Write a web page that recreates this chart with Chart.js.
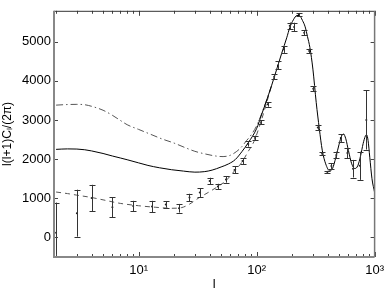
<!DOCTYPE html>
<html>
<head>
<meta charset="utf-8">
<script src="https://cdn.jsdelivr.net/npm/chart.js@4.4.1/dist/chart.umd.min.js"></script>
<style>
  body { margin: 0; background: #fff; }
</style>
</head>
<body>
<canvas id="cl-chart" width="390" height="292"></canvas>
<script>
// measured band powers with error bars
const dataL = [2, 3, 4, 6, 9, 13, 17, 22, 27, 33, 40, 47, 55, 65, 76, 85, 97, 109, 124, 141, 152, 171, 191, 208, 228, 253, 279, 302, 330, 359, 398, 430, 474, 517, 588, 656, 748, 851];
const dataV = [120, 620, 1010, 770, 805, 790, 840, 745, 1020, 1145, 1440, 1300, 1480, 1725, 1950, 2390, 2540, 2940, 3400, 4105, 4395, 4800, 5405, 5375, 5695, 5230, 4765, 3800, 2810, 2140, 1670, 1825, 2105, 2540, 2160, 1755, 1830, 3000];
const dataErr = [770, 600, 335, 260, 130, 145, 80, 110, 95, 110, 85, 70, 80, 90, 75, 70, 60, 50, 60, 60, 100, 85, 85, 110, 40, 70, 60, 60, 60, 30, 30, 75, 85, 100, 135, 225, 360, 755];

// model curves
const solidL = [2, 2.5, 3, 3.5, 4, 5, 6, 7, 8, 10, 12, 15, 19, 24, 30, 36, 42, 50, 58, 66, 75, 85, 100, 110, 120, 134, 150, 163, 180, 191, 205, 220, 230, 245, 258, 270, 283, 300, 320, 340, 360, 385, 417, 440, 470, 500, 525, 545, 570, 600, 640, 680, 720, 760, 800, 835, 855, 880, 910, 950, 1000];
const solidV = [2250, 2262, 2258, 2240, 2210, 2145, 2080, 2030, 1985, 1905, 1840, 1780, 1730, 1695, 1668, 1680, 1720, 1800, 1880, 1990, 2190, 2420, 2780, 3130, 3450, 3880, 4350, 4700, 5100, 5360, 5560, 5670, 5670, 5540, 5380, 5130, 4850, 4300, 3450, 2780, 2230, 1880, 1700, 1760, 2050, 2380, 2590, 2640, 2520, 2220, 1880, 1760, 1830, 2080, 2400, 2590, 2620, 2480, 2050, 1500, 1150];

const dashDotL = [2, 2.5, 3, 3.5, 4, 5, 6, 7, 8, 10, 13, 16, 20, 25, 30, 37, 45, 52, 60, 68, 75, 82, 90, 100, 110, 120, 134];
const dashDotV = [3380, 3395, 3400, 3390, 3350, 3250, 3120, 2990, 2880, 2760, 2620, 2510, 2410, 2290, 2200, 2130, 2080, 2065, 2100, 2200, 2320, 2470, 2620, 2850, 3150, 3460, 3880];

const dashedL = [2, 2.5, 3, 4, 5, 7, 10, 14, 19, 23, 27, 32, 40, 48, 55, 65, 75, 85, 95, 110, 120, 134];
const dashedV = [1160, 1120, 1080, 1020, 960, 870, 810, 770, 745, 760, 850, 1000, 1170, 1320, 1450, 1700, 1920, 2200, 2450, 3000, 3380, 3880];

// axes
const yTicks = [0, 1000, 2000, 3000, 4000, 5000];
const xMajor = [10, 100, 1000];
const xLabels = ['10¹', '10²', '10³'];

const FONT = "'Liberation Sans', Arial, Helvetica, sans-serif";

function toPoints(xs, ys) {
    return xs.map((x, i) => ({ x: x, y: ys[i] }));
}

function xTickList() {
    const list = [];
    for (let d = 1; d <= 100; d *= 10) {
        for (let k = 2; k <= 9; k++) list.push({ value: k * d });
    }
    xMajor.forEach(v => list.push({ value: v, major: true }));
    return list.sort((a, b) => a.value - b.value);
}

// error bars, drawn through the scales
const errorBars = {
    id: 'errorBars',
    afterDatasetsDraw(chart) {
        const { ctx, chartArea: a, scales: { x, y } } = chart;
        ctx.save();
        ctx.beginPath();
        ctx.rect(a.left, a.top, a.right - a.left, a.bottom - a.top);
        ctx.clip();
        ctx.strokeStyle = '#333';
        ctx.lineWidth = 1;
        dataL.forEach((l, i) => {
            const px = Math.round(x.getPixelForValue(l)) + 0.5;
            const top = y.getPixelForValue(dataV[i] + dataErr[i]);
            const bot = y.getPixelForValue(dataV[i] - dataErr[i]);
            ctx.beginPath();
            ctx.moveTo(px, top); ctx.lineTo(px, bot);
            ctx.moveTo(px - 3, Math.round(top) + 0.5); ctx.lineTo(px + 3, Math.round(top) + 0.5);
            ctx.moveTo(px - 3, Math.round(bot) + 0.5); ctx.lineTo(px + 3, Math.round(bot) + 0.5);
            ctx.stroke();
        });
        ctx.restore();
    }
};

// box and inward tick marks like the original plot
const frame = {
    id: 'frame',
    afterDraw(chart) {
        const { ctx, chartArea: a, scales: { x, y } } = chart;
        ctx.save();
        ctx.strokeStyle = '#444';
        ctx.lineWidth = 1;
        ctx.beginPath();
        x.ticks.forEach(t => {
            const px = Math.round(x.getPixelForValue(t.value)) + 0.5;
            const len = xMajor.includes(t.value) ? 5 : 3;
            ctx.moveTo(px, a.bottom); ctx.lineTo(px, a.bottom - len);
            ctx.moveTo(px, a.top); ctx.lineTo(px, a.top + len);
        });
        y.ticks.forEach(t => {
            const py = Math.round(y.getPixelForValue(t.value)) + 0.5;
            ctx.moveTo(a.left, py); ctx.lineTo(a.left + 4, py);
            ctx.moveTo(a.right, py); ctx.lineTo(a.right - 4, py);
        });
        ctx.stroke();

        ctx.strokeStyle = '#333';
        ctx.beginPath();
        ctx.moveTo(a.left, a.top + 0.5); ctx.lineTo(a.right, a.top + 0.5);
        ctx.stroke();
        ctx.strokeStyle = '#777';
        ctx.lineWidth = 1.5;
        ctx.beginPath();
        ctx.moveTo(a.right, a.top); ctx.lineTo(a.right, a.bottom);
        ctx.stroke();
        ctx.strokeStyle = '#888';
        ctx.lineWidth = 2;
        ctx.beginPath();
        ctx.moveTo(a.left, a.top); ctx.lineTo(a.left, a.bottom); ctx.lineTo(a.right, a.bottom);
        ctx.stroke();
        ctx.restore();
    }
};

const lineStyle = {
    showLine: true,
    pointRadius: 0,
    borderWidth: 1,
    fill: false,
    cubicInterpolationMode: 'monotone'
};

new Chart(document.getElementById('cl-chart').getContext('2d'), {
    type: 'scatter',
    data: {
        datasets: [
            Object.assign({ label: 'model', data: toPoints(solidL, solidV), borderColor: '#000' }, lineStyle),
            Object.assign({ label: 'model 2', data: toPoints(dashDotL, dashDotV), borderColor: '#555', borderDash: [7, 3, 1.5, 3] }, lineStyle),
            Object.assign({ label: 'model 3', data: toPoints(dashedL, dashedV), borderColor: '#555', borderDash: [5, 4] }, lineStyle),
            {
                label: 'data',
                data: toPoints(dataL, dataV),
                showLine: false,
                pointRadius: 1,
                pointBackgroundColor: '#222',
                pointBorderWidth: 0
            }
        ]
    },
    options: {
        responsive: false,
        animation: false,
        layout: { padding: { top: 3, right: 13, left: 0, bottom: 0 } },
        plugins: { legend: { display: false }, tooltip: { enabled: false } },
        scales: {
            x: {
                type: 'logarithmic',
                min: 1.92,
                max: 1000,
                afterBuildTicks: s => { s.ticks = xTickList(); },
                afterFit: s => { s.height = 35; },
                grid: { display: false, drawTicks: false },
                border: { display: false },
                ticks: {
                    autoSkip: false,
                    maxRotation: 0,
                    padding: 6,
                    color: '#000',
                    font: { family: FONT, size: 13 },
                    callback: v => {
                        const i = xMajor.indexOf(v);
                        return i >= 0 ? xLabels[i] : '';
                    }
                },
                title: {
                    display: true,
                    text: 'l',
                    color: '#000',
                    font: { family: FONT, size: 13 },
                    padding: { top: 0, bottom: 0 }
                }
            },
            y: {
                type: 'linear',
                min: -500,
                max: 5790,
                afterBuildTicks: s => { s.ticks = yTicks.map(v => ({ value: v })); },
                afterFit: s => { s.width = 54; },
                grid: { display: false, drawTicks: false },
                border: { display: false },
                ticks: {
                    padding: 3,
                    color: '#000',
                    font: { family: FONT, size: 13 },
                    callback: v => String(v)
                },
                title: {
                    display: true,
                    text: 'l(l+1)Cₗ/(2π)',
                    color: '#000',
                    font: { family: FONT, size: 12 },
                    padding: { top: 0, bottom: 0 }
                }
            }
        }
    },
    plugins: [errorBars, frame]
});
</script>
</body>
</html>
